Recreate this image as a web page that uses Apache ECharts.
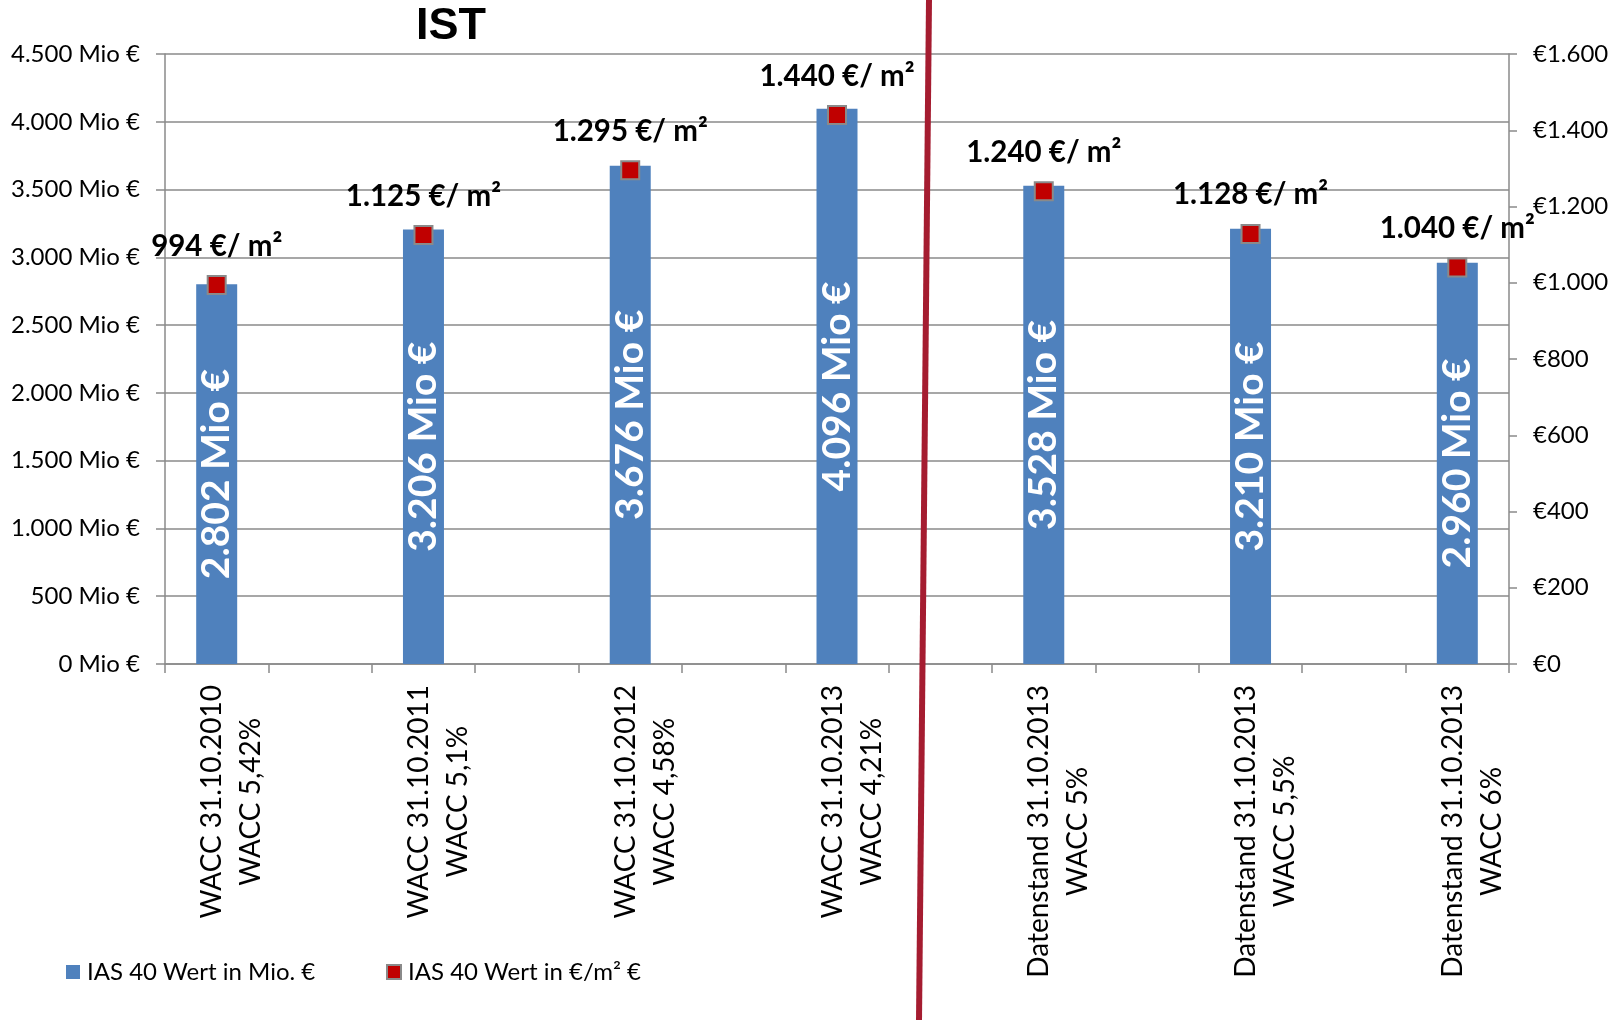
<!DOCTYPE html>
<html><head><meta charset="utf-8">
<script src="https://cdn.jsdelivr.net/npm/echarts@6/dist/echarts.min.js"></script>
<style>html,body{margin:0;padding:0;background:#fff}#c{width:1621px;height:1020px}</style>
</head><body><div id="c"></div>
<script>
// ---- data ----
const categories = [
  'WACC 31.10.2010\nWACC 5,42%',
  'WACC 31.10.2011\nWACC 5,1%',
  'WACC 31.10.2012\nWACC 4,58%',
  'WACC 31.10.2013\nWACC 4,21%',
  'Datenstand 31.10.2013\nWACC 5%',
  'Datenstand 31.10.2013\nWACC 5,5%',
  'Datenstand 31.10.2013\nWACC 6%'
];
const valueMio = [2802, 3206, 3676, 4096, 3528, 3210, 2960];
const valuePerM2 = [994, 1125, 1295, 1440, 1240, 1128, 1040];
const leftTicks = [0, 500, 1000, 1500, 2000, 2500, 3000, 3500, 4000, 4500];
const rightTicks = [0, 200, 400, 600, 800, 1000, 1200, 1400, 1600];
const seriesNames = ['IAS 40 Wert in Mio. €', 'IAS 40 Wert in €/m² €'];
const titleText = 'IST';

// ---- helpers ----
function fmt(n) {
  return String(n).replace(/\B(?=(\d{3})+(?!\d))/g, '.');
}
// Excel layout: empty category slot between each bar
const axisCats = [], barData = [], pointData = [];
categories.forEach((c, i) => {
  axisCats.push(c); barData.push(valueMio[i]); pointData.push(valuePerM2[i]);
  if (i < categories.length - 1) { axisCats.push(''); barData.push('-'); pointData.push('-'); }
});

const FONT = 'Lato';
const chart = echarts.init(document.getElementById('c'), null, {renderer: 'canvas'});
chart.setOption({
  animation: false,
  backgroundColor: '#fff',
  title: {
    text: titleText, left: 416, top: 4, padding: 0,
    textStyle: {fontFamily: 'Liberation Sans', fontWeight: 'bold', fontSize: 45, color: '#000'}
  },
  legend: [
    {data: [seriesNames[0]], left: 66, top: 960, padding: 0, itemWidth: 14, itemHeight: 14, icon: 'rect',
     textStyle: {fontFamily: FONT, fontSize: 24, color: '#000', padding: [0, 0, 0, 2]}},
    {data: [seriesNames[1]], left: 386, top: 960, padding: 0, itemWidth: 14, itemHeight: 14, icon: 'rect',
     textStyle: {fontFamily: FONT, fontSize: 24, color: '#000', padding: [0, 0, 0, 2]}}
  ],
  grid: {left: 165, right: 112, top: 54, bottom: 356, containLabel: false, outerBoundsMode: 'none'},
  xAxis: {
    type: 'category', data: axisCats, boundaryGap: true,
    axisLine: {lineStyle: {color: '#8a8a8a', width: 1.5}},
    axisTick: {show: true, length: 9, interval: 0, lineStyle: {color: '#8a8a8a', width: 1.5}},
    axisLabel: {
      interval: 0, rotate: 90, margin: 21, padding: [30, 0, 0, 0],
      fontFamily: FONT, fontSize: 28, color: '#000',
      formatter: v => v ? v.split('\n').map(s => '{c|' + s + '}').join('\n') : '',
      rich: {c: {align: 'center', fontFamily: FONT, fontSize: 28, lineHeight: 39, color: '#000'}}
    },
    splitLine: {show: false}
  },
  yAxis: [
    {
      type: 'value', min: leftTicks[0], max: leftTicks[leftTicks.length - 1], interval: leftTicks[1] - leftTicks[0],
      axisLine: {show: true, lineStyle: {color: '#8a8a8a', width: 1.5}},
      axisTick: {show: true, length: 9, lineStyle: {color: '#8a8a8a', width: 1.5}},
      axisLabel: {margin: 25, fontFamily: FONT, fontSize: 24, color: '#000', formatter: v => fmt(v) + ' Mio €'},
      splitLine: {show: true, lineStyle: {color: '#8a8a8a', width: 1.5}}
    },
    {
      type: 'value', min: rightTicks[0], max: rightTicks[rightTicks.length - 1], interval: rightTicks[1] - rightTicks[0],
      position: 'right',
      axisLine: {show: true, lineStyle: {color: '#8a8a8a', width: 1.5}},
      axisTick: {show: true, length: 8, lineStyle: {color: '#8a8a8a', width: 1.5}},
      axisLabel: {margin: 24, fontFamily: FONT, fontSize: 24, color: '#000', formatter: v => '€' + fmt(v)},
      splitLine: {show: false}
    }
  ],
  series: [
    {
      name: seriesNames[0], type: 'bar', data: barData, barWidth: 41, yAxisIndex: 0,
      itemStyle: {color: '#4F81BD'},
      label: {
        show: true, position: 'inside', rotate: 90, color: '#fff',
        fontFamily: FONT, fontWeight: 'bold', fontSize: 39,
        formatter: p => fmt(p.value) + ' Mio €'
      }
    },
    {
      name: seriesNames[1], type: 'scatter', data: pointData, yAxisIndex: 1,
      symbol: 'rect', symbolSize: 18, z: 5,
      itemStyle: {color: '#C00000', borderColor: '#8a8a8a', borderWidth: 2, opacity: 1},
      label: {
        show: true, position: 'top', distance: 14, color: '#000',
        fontFamily: FONT, fontWeight: 'bold', fontSize: 29.5,
        formatter: p => fmt(p.value) + ' €/ m²'
      }
    }
  ],
  graphic: [
    {type: 'line', z: 100, silent: true,
     shape: {x1: 929, y1: 0, x2: 919, y2: 1020},
     style: {stroke: '#A51C30', lineWidth: 6}}
  ]
});
</script>
</body></html>
